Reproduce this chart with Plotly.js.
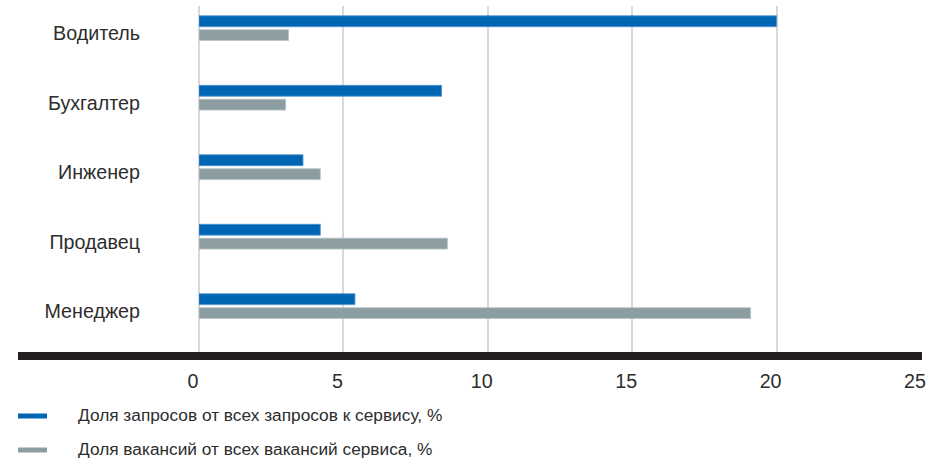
<!DOCTYPE html>
<html><head><meta charset="utf-8">
<script src="https://cdn.plot.ly/plotly-3.0.1.min.js"></script>
<style>html,body{margin:0;padding:0;background:#fff}</style>
</head><body>
<div id="chart" style="width:939px;height:462px"></div>
<script>
const categories = ["Водитель", "Бухгалтер", "Инженер", "Продавец", "Менеджер"];
const requestsShare = [20.0, 8.4, 3.6, 4.2, 5.4];
const vacanciesShare = [3.1, 3.0, 4.2, 8.6, 19.1];
const seriesNames = ["Доля запросов от всех запросов к сервису, %", "Доля вакансий от всех вакансий сервиса, %"];
const seriesColors = ["#0066b3", "#8c9ea1"];
const xTicks = [0, 5, 10, 15, 20, 25];

const W = 939, H = 462;
const L = 199, R = 18, T = 6, B = 110;
const pw = W - L - R, ph = H - T - B;
const px = v => (v - L) / pw;
const py = v => (H - B - v) / ph;

const font = "Liberation Sans, Arial, sans-serif";
const textColor = "#2d2d2d";

const traces = [
  {type: "bar", orientation: "h", y: categories, x: requestsShare, name: seriesNames[0],
   marker: {color: seriesColors[0], line: {color: "#4a8fcf", width: 0.8}}, showlegend: false, hoverinfo: "x+y"},
  {type: "bar", orientation: "h", y: categories, x: vacanciesShare, name: seriesNames[1],
   marker: {color: seriesColors[1], line: {color: "#b7c3c4", width: 0.8}}, showlegend: false, hoverinfo: "x+y"}
];

const shapes = [
  {type: "line", xref: "paper", yref: "paper", x0: px(18), x1: px(922), y0: py(356), y1: py(356),
   line: {color: "#231f20", width: 8}, layer: "above"},
  {type: "line", xref: "paper", yref: "paper", x0: px(18), x1: px(47), y0: py(416), y1: py(416),
   line: {color: seriesColors[0], width: 5}},
  {type: "line", xref: "paper", yref: "paper", x0: px(18), x1: px(47), y0: py(450), y1: py(450),
   line: {color: seriesColors[1], width: 5}}
];

const annotations = [
  {xref: "paper", yref: "paper", x: px(76), y: py(415), text: seriesNames[0], showarrow: false,
   xanchor: "left", yanchor: "middle", font: {family: font, size: 17.3, color: textColor}},
  {xref: "paper", yref: "paper", x: px(76), y: py(449), text: seriesNames[1], showarrow: false,
   xanchor: "left", yanchor: "middle", font: {family: font, size: 17.3, color: textColor}}
];

const layout = {
  width: W, height: H,
  margin: {l: L, r: R, t: T, b: B, pad: 0},
  paper_bgcolor: "#ffffff", plot_bgcolor: "#ffffff",
  barmode: "group", bargap: 0.6, bargroupgap: 0.22,
  font: {family: font, size: 19.7, color: textColor},
  showlegend: false,
  xaxis: {range: [0, 25], tickvals: xTicks, ticktext: xTicks.map(String), showgrid: true,
          gridcolor: "#d9d9d9", gridwidth: 2, zeroline: true, zerolinecolor: "#d9d9d9", zerolinewidth: 2,
          showline: false, ticks: "", ticklabelstandoff: 15, ticklabelshift: -6, fixedrange: true,
          tickfont: {family: font, size: 19.7, color: textColor}},
  yaxis: {type: "category", categoryorder: "array", categoryarray: categories,
          range: [4.66, -0.32], showgrid: false, zeroline: false, showline: false, ticks: "",
          ticklabelstandoff: 58, ticklabelshift: -5, fixedrange: true,
          tickfont: {family: font, size: 19.7, color: textColor}},
  shapes: shapes,
  annotations: annotations
};

Plotly.newPlot("chart", traces, layout, {displayModeBar: false, staticPlot: true});
</script>
</body></html>
